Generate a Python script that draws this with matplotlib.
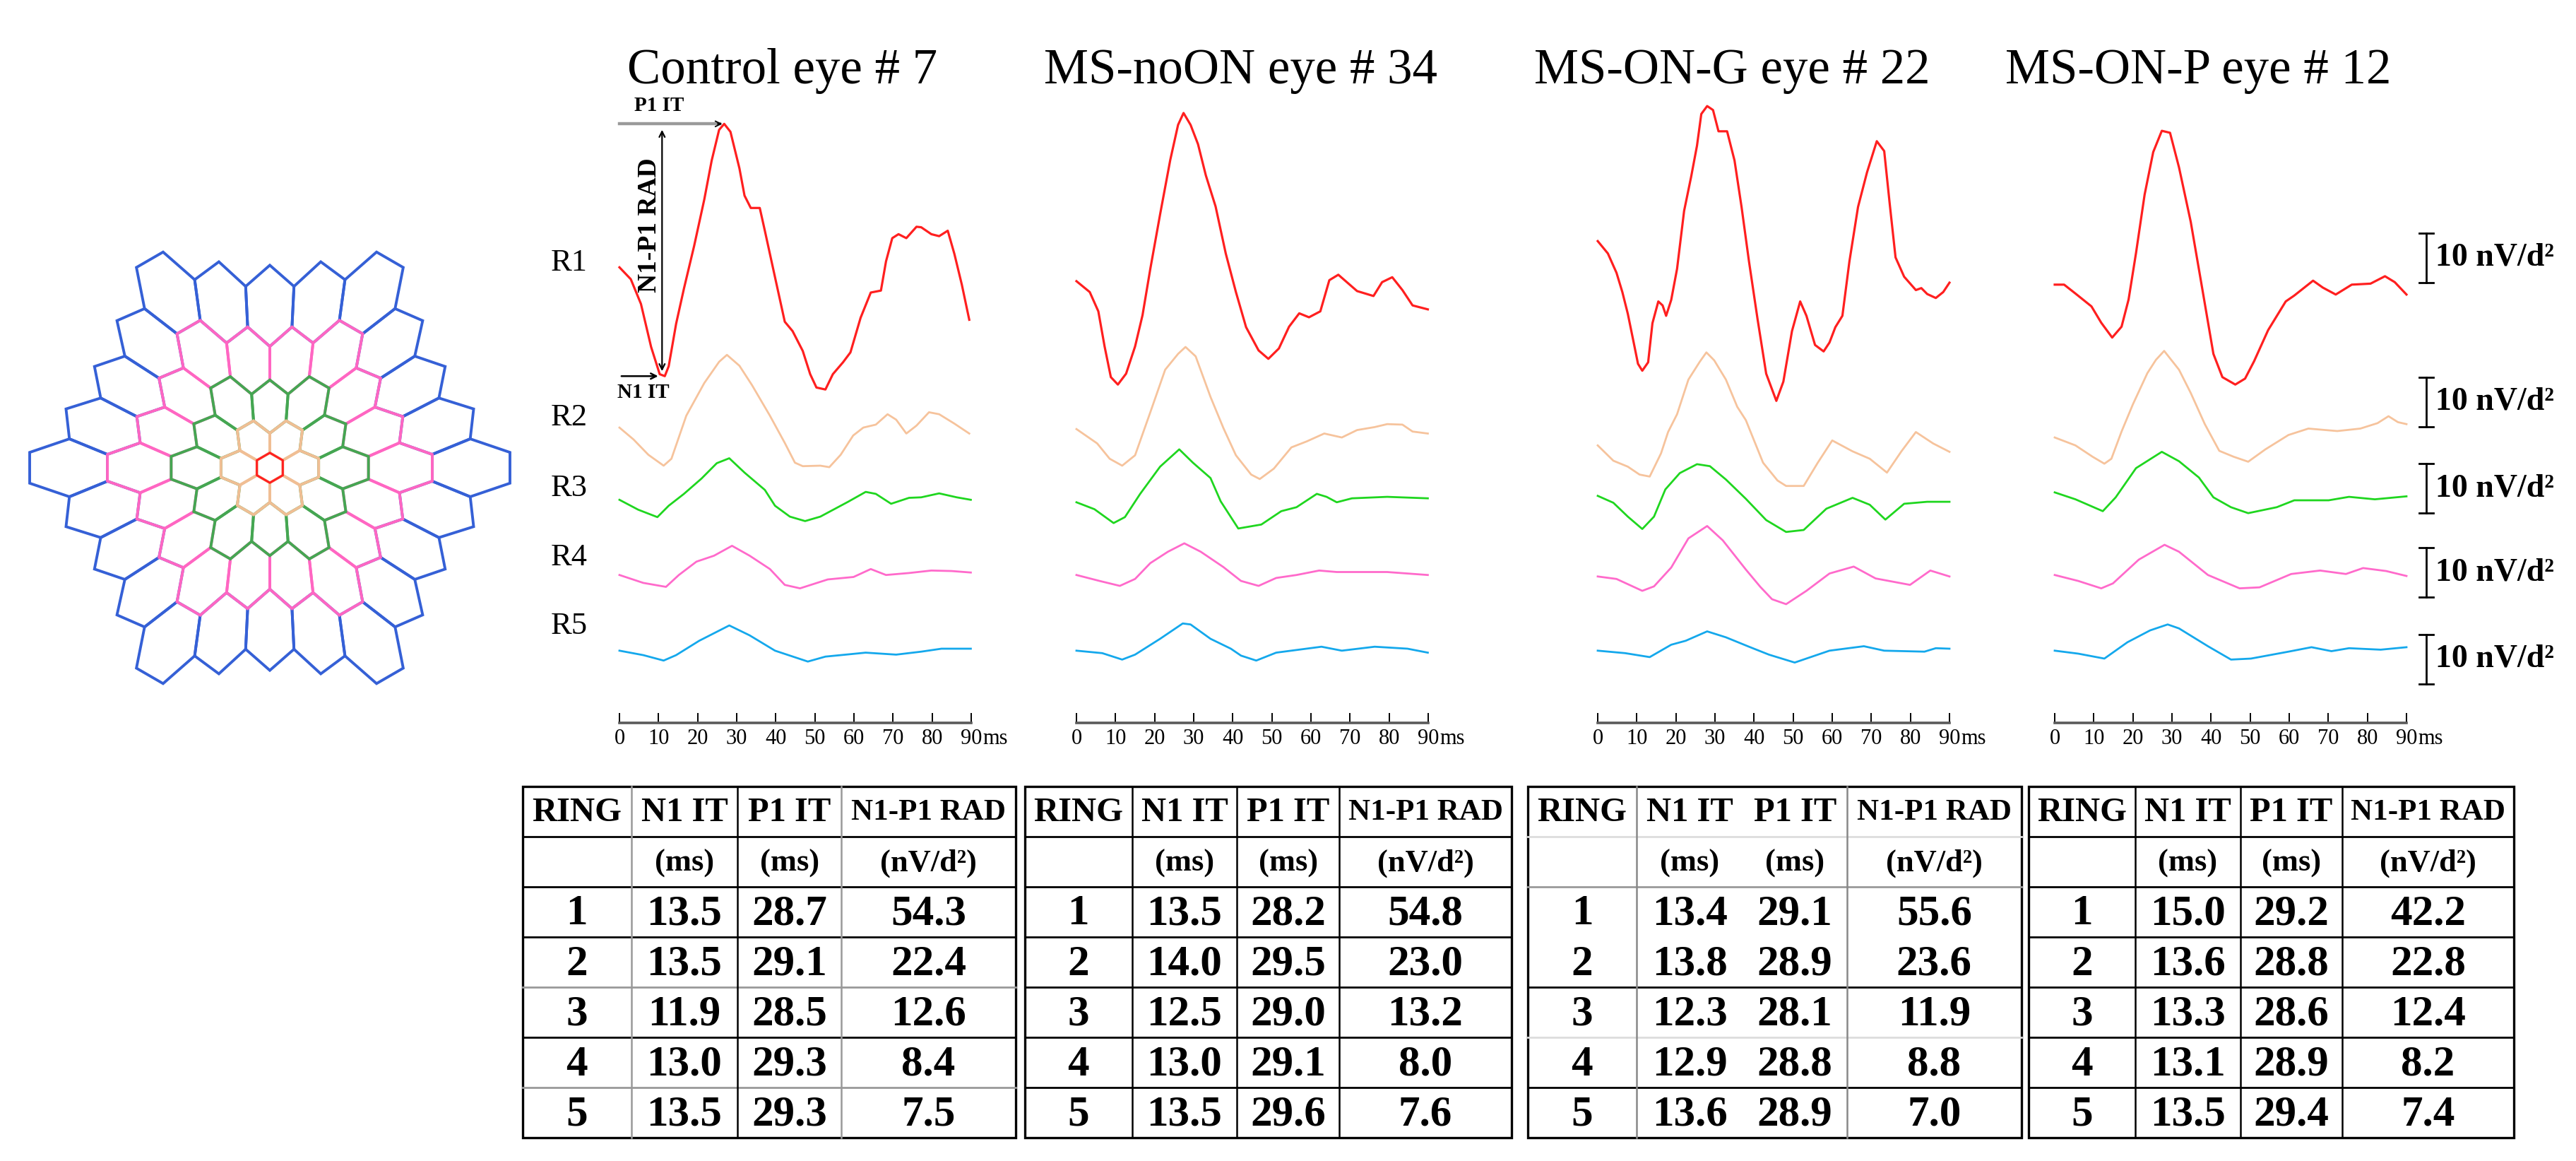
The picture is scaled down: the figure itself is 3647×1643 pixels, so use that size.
"""Multifocal ERG ring traces (R1-R5) for four eyes, with the stimulus array and ring tables."""

import numpy as np
import matplotlib
matplotlib.use("Agg")
import matplotlib.pyplot as plt
from matplotlib.patches import Polygon

W, H, DPI = 3647, 1643, 100

PANEL_TITLES = ["Control eye # 7", "MS-noON eye # 34", "MS-ON-G eye # 22", "MS-ON-P eye # 12"]
RING_LABELS = ["R1", "R2", "R3", "R4", "R5"]
TIME_TICKS = [0, 10, 20, 30, 40, 50, 60, 70, 80, 90]

# traces: (time ms, response nV/deg^2 relative to trace start)
CTRL_R1 = [(0, 0), (2.9, -2.4), (5.5, -7.4), (8.1, -16.1), (10.3, -21.6), (11.6, -22.0), (12.6, -20.0),
           (14.5, -11.4), (16.5, -4.3), (19.1, 4.3), (21.7, 13.7), (23.6, 21.6), (25.5, 27.8), (26.8, 29.0),
           (28.4, 27.4), (30.7, 20.0), (32.0, 14.5), (33.6, 12.0), (35.9, 12.0), (37.2, 7.4), (39.8, -2.0),
           (42.3, -11.0), (44.3, -12.9), (46.9, -16.9), (48.8, -21.6), (50.4, -24.3), (52.7, -24.7),
           (54.6, -21.6), (57.2, -19.2), (59.1, -17.2), (61.7, -10.2), (64.3, -5.1), (66.9, -4.7), (68.2, 1.2),
           (69.8, 5.9), (71.4, 6.7), (73.4, 5.9), (76.0, 8.2), (77.2, 8.1), (79.8, 6.7), (81.8, 6.3),
           (84.0, 7.4), (85.7, 2.7), (87.6, -3.5), (89.5, -10.6)]
CTRL_R2 = [(0, 0), (3.6, -2.4), (7.4, -5.5), (11.3, -7.7), (13.3, -6.3), (17.1, 2.4), (21.7, 9.0), (25.5, 13.3),
           (27.5, 14.7), (30.7, 12.5), (33.9, 8.6), (38.5, 2.4), (42.3, -3.1), (44.9, -7.1), (46.9, -7.8),
           (51.4, -7.7), (53.7, -8.0), (56.6, -5.5), (59.8, -1.6), (62.4, 0), (65.6, 0.6), (68.6, 2.7),
           (70.8, 1.6), (73.4, -1.2), (76.0, 0.4), (79.2, 3.1), (81.8, 2.7), (85.7, 0.8), (89.5, -1.2)]
CTRL_R3 = [(0, 0), (4.8, -2.0), (9.7, -3.5), (12.6, -1.2), (16.5, 1.2), (21.0, 4.3), (24.9, 7.4), (28.1, 8.4),
           (32.0, 5.5), (37.2, 2.0), (39.8, -1.2), (43.6, -3.4), (47.5, -4.3), (51.4, -3.4), (58.5, -0.4),
           (63.0, 1.6), (65.6, 1.2), (69.5, -0.8), (74.1, 0.4), (77.2, 0.5), (81.8, 1.3), (86.3, 0.5), (89.9, 0)]
CTRL_R4 = [(0, 0), (6.1, -1.6), (11.9, -2.4), (15.2, 0), (19.7, 2.7), (24.2, 3.9), (28.8, 5.9), (33.3, 3.9),
           (38.5, 1.2), (42.3, -2.0), (46.2, -2.7), (53.3, -0.9), (59.9, -0.4), (64.3, 1.2), (68.2, 0),
           (74.1, 0.4), (79.8, 0.9), (85.0, 0.8), (89.9, 0.5)]
CTRL_R5 = [(0, 0), (6.1, -0.9), (11.3, -2.0), (14.5, -0.9), (20.4, 2.0), (28.1, 5.1), (33.3, 3.1), (39.8, 0),
           (48.2, -2.2), (52.7, -1.2), (57.9, -0.8), (63.0, -0.4), (70.8, -0.8), (77.2, -0.2), (82.4, 0.4),
           (89.9, 0.4)]

NOON_R1 = [(0, 0), (3.4, -2.2), (5.6, -6.1), (7.2, -13.2), (8.8, -19.4), (10.6, -20.9), (12.7, -18.7),
           (15.0, -13.2), (16.9, -6.9), (18.9, 2.5), (21.4, 13.5), (24.0, 24.5), (26.0, 31.6), (27.4, 34.0),
           (29.2, 31.6), (31.1, 27.7), (33.1, 21.4), (35.6, 15.1), (38.2, 5.6), (40.8, -2.2), (43.4, -9.3),
           (46.6, -14.0), (49.1, -15.7), (51.8, -13.6), (54.4, -9.2), (57.0, -6.5), (59.5, -7.3), (62.4, -6.1),
           (64.7, 0.2), (67.0, 1.3), (71.8, -2.0), (76.0, -3.0), (78.2, -0.2), (80.8, 0.8), (83.4, -1.8),
           (86.0, -4.9), (89.9, -5.7)]
NOON_R2 = [(0, 0), (5.3, -2.9), (8.5, -6.0), (11.7, -7.4), (15.0, -5.3), (18.9, 3.4), (22.7, 12.0), (26.0, 15.2),
           (27.9, 16.6), (30.5, 14.7), (34.3, 6.5), (37.6, 0.2), (40.8, -5.3), (44.7, -9.2), (46.9, -10.1),
           (50.5, -8.0), (55.0, -3.7), (58.9, -2.5), (63.4, -0.9), (67.9, -1.7), (71.8, -0.2), (76.3, 0.4),
           (79.5, 1.0), (83.4, 0.9), (86.0, -0.5), (89.9, -0.9)]
NOON_R3 = [(0, 0), (4.6, -1.4), (9.5, -4.2), (12.4, -3.0), (16.3, 1.7), (21.4, 7.2), (26.3, 10.7), (29.8, 8.0),
           (34.3, 4.9), (36.9, 0.2), (41.4, -5.3), (47.3, -4.5), (52.4, -1.8), (56.3, -1.0), (61.5, 1.7),
           (64.0, 1.1), (66.6, 0), (70.5, 0.8), (79.5, 1.1), (89.9, 0.8)]
NOON_R4 = [(0, 0), (5.9, -1.2), (11.1, -2.2), (15.0, -0.8), (18.9, 2.4), (23.4, 4.7), (27.6, 6.4), (31.8, 4.7),
           (37.6, 1.6), (42.1, -1.2), (46.6, -2.2), (51.1, -0.6), (56.3, 0), (62.1, 0.9), (66.6, 0.6),
           (79.5, 0.6), (89.9, 0)]
NOON_R5 = [(0, 0), (6.6, -0.5), (11.7, -1.8), (15.0, -0.8), (21.4, 2.4), (27.2, 5.5), (29.2, 5.3), (34.3, 2.4),
           (39.5, 0.4), (42.1, -1.0), (46.0, -2.0), (51.1, -0.4), (62.7, 0.8), (67.9, 0), (76.3, 0.8),
           (84.7, 0.4), (89.9, -0.4)]

ONG_R1 = [(0, 0), (2.6, -2.5), (4.8, -6.4), (6.3, -10.3), (7.7, -14.7), (9.2, -20.5), (10.3, -24.8),
          (11.4, -26.2), (12.9, -24.5), (14.0, -16.6), (15.5, -12.2), (16.6, -13.0), (17.5, -15.1),
          (18.8, -11.9), (20.3, -5.6), (22.1, 6.1), (23.9, 13.0), (25.4, 19.3), (26.5, 25.7), (28.0, 27.3),
          (29.5, 26.5), (30.9, 22.2), (33.1, 22.2), (35.0, 16.3), (36.8, 6.9), (38.7, -4.1), (40.9, -15.8),
          (43.1, -26.8), (45.7, -32.3), (47.5, -28.4), (49.7, -18.2), (51.8, -12.2), (53.4, -15.1),
          (55.6, -21.0), (57.8, -22.3), (59.3, -20.5), (60.8, -17.4), (62.6, -15.1), (64.4, -4.1), (66.6, 6.9),
          (68.9, 13.9), (71.4, 20.2), (73.3, 18.2), (74.7, 7.6), (76.2, -3.3), (78.4, -7.2), (81.4, -9.9),
          (82.8, -9.5), (84.3, -10.7), (86.5, -11.5), (88.4, -10.3), (90.0, -8.4)]
ONG_R2 = [(0, 0), (4.0, -3.1), (7.7, -4.3), (10.7, -5.9), (13.3, -6.3), (16.2, -1.6), (18.0, 2.7), (20.3, 6.3),
          (23.2, 13.3), (26.1, 16.9), (27.8, 18.8), (29.8, 17.2), (32.8, 13.3), (35.7, 7.8), (37.9, 5.1),
          (42.3, -3.5), (46.0, -7.1), (48.2, -8.2), (52.7, -8.2), (56.3, -3.5), (60.0, 1.0), (65.2, -1.2),
          (69.6, -2.7), (74.0, -5.5), (77.7, -1.2), (81.4, 2.7), (85.8, 0.4), (90.0, -1.3)]
ONG_R3 = [(0, 0), (4.0, -1.4), (7.7, -4.2), (11.4, -6.7), (14.4, -4.2), (17.3, 1.3), (21.0, 4.6), (25.4, 6.4),
          (28.7, 6.0), (32.8, 3.3), (37.9, -0.6), (43.1, -4.9), (48.2, -7.3), (52.7, -6.9), (58.5, -2.6),
          (65.2, -0.4), (69.6, -1.8), (73.6, -4.8), (78.4, -1.6), (84.3, -1.2), (90.0, -1.2)]
ONG_R4 = [(0, 0), (4.8, -0.5), (11.4, -2.9), (14.4, -2.0), (18.8, 1.8), (23.2, 7.7), (28.0, 10.2), (32.0, 7.3),
          (37.9, 1.4), (41.6, -2.1), (44.6, -4.6), (48.2, -5.6), (53.4, -2.9), (59.3, 0.6), (65.5, 2.0),
          (71.1, -0.4), (79.9, -1.7), (85.1, 1.2), (90.0, 0)]
ONG_R5 = [(0, 0), (7.0, -0.5), (13.3, -1.3), (18.8, 1.2), (22.5, 2.0), (28.0, 3.9), (32.8, 2.7), (38.7, 0.8),
          (43.8, -0.8), (50.4, -2.4), (59.3, 0), (68.1, 0.9), (73.3, 0), (83.6, -0.2), (86.5, 0.5), (90.0, 0.4)]

ONP_R1 = [(0, 0), (2.4, 0), (5.3, -1.8), (9.4, -4.4), (11.9, -7.7), (14.7, -10.7), (17.1, -8.5), (18.9, -3.0),
          (20.8, 6.4), (23.0, 18.2), (25.2, 26.8), (27.4, 31.1), (29.5, 30.7), (31.8, 23.7), (34.8, 12.7),
          (37.7, -0.6), (40.6, -14.0), (42.9, -18.7), (46.2, -20.2), (48.7, -19.0), (51.0, -15.5), (54.6, -9.2),
          (59.1, -3.4), (61.3, -2.2), (66.1, 0.8), (68.6, -0.6), (71.9, -2.0), (76.0, 0), (80.8, 0.2),
          (84.5, 1.7), (87.0, 0.5), (90.0, -2.0)]
ONP_R2 = [(0, 0), (5.3, -1.6), (9.7, -3.9), (12.7, -5.3), (14.5, -4.3), (17.1, 1.2), (20.0, 6.7), (23.7, 13.0),
          (25.9, 15.7), (28.0, 17.5), (31.8, 13.7), (34.8, 9.0), (38.4, 2.7), (42.1, -2.7), (45.8, -3.9),
          (49.5, -4.9), (53.9, -2.4), (59.8, 0.5), (64.9, 1.8), (72.3, 1.3), (78.2, 1.8), (82.6, 2.9),
          (85.4, 4.3), (87.8, 3.1), (90.0, 2.7)]
ONP_R3 = [(0, 0), (5.3, -1.4), (12.3, -3.8), (15.6, -1.0), (20.8, 4.9), (27.4, 8.2), (31.8, 6.3), (36.9, 3.0),
          (40.6, -1.0), (45.1, -3.0), (49.5, -4.2), (56.8, -3.0), (61.3, -1.6), (70.1, -1.6), (75.3, -0.9),
          (81.9, -1.4), (90.0, -0.8)]
ONP_R4 = [(0, 0), (6.0, -1.2), (11.9, -2.7), (14.9, -1.7), (21.5, 3.1), (28.1, 6.1), (31.8, 4.7), (39.2, 0),
          (47.3, -2.7), (52.4, -2.5), (60.5, 0.2), (67.9, 0.9), (74.5, 0.2), (78.9, 1.4), (84.8, 0.8), (90.0, -0.2)]
ONP_R5 = [(0, 0), (6.0, -0.6), (12.7, -1.6), (18.6, 1.7), (24.4, 4.1), (28.9, 5.3), (31.8, 4.5), (39.2, 0.9),
          (45.1, -1.8), (50.2, -1.6), (59.8, -0.2), (65.7, 0.7), (70.8, -0.1), (75.3, 0.5), (83.4, 0.2),
          (90.0, 0.7)]

# ring tables
N1_IT = [[13.5, 13.5, 11.9, 13.0, 13.5], [13.5, 14.0, 12.5, 13.0, 13.5],
         [13.4, 13.8, 12.3, 12.9, 13.6], [15.0, 13.6, 13.3, 13.1, 13.5]]
P1_IT = [[28.7, 29.1, 28.5, 29.3, 29.3], [28.2, 29.5, 29.0, 29.1, 29.6],
         [29.1, 28.9, 28.1, 28.8, 28.9], [29.2, 28.8, 28.6, 28.9, 29.4]]
N1P1_RAD = [[54.3, 22.4, 12.6, 8.4, 7.5], [54.8, 23.0, 13.2, 8.0, 7.6],
            [55.6, 23.6, 11.9, 8.8, 7.0], [42.2, 22.8, 12.4, 8.2, 7.4]]
TABLE_HEAD = ["RING", "N1 IT", "P1 IT", "N1-P1 RAD"]
TABLE_UNITS = ["", "(ms)", "(ms)", "(nV/d\u00b2)"]

TRACES = [[CTRL_R1, CTRL_R2, CTRL_R3, CTRL_R4, CTRL_R5],
          [NOON_R1, NOON_R2, NOON_R3, NOON_R4, NOON_R5],
          [ONG_R1, ONG_R2, ONG_R3, ONG_R4, ONG_R5],
          [ONP_R1, ONP_R2, ONP_R3, ONP_R4, ONP_R5]]

# layout (pixels of the output image) and styling
TRACE_COLORS = ["#ff1f1f", "#f6c39c", "#1fd61f", "#ff6acb", "#14a8ec"]
HEX_COLORS = ["#ff2020", "#f0be94", "#45a652", "#ff66c2", "#3560d6"]
PANEL_LEFT = [877, 1524, 2262, 2909]
TITLE_X = [1108, 1757, 2452, 3112]
AX_W, AX_TOP, AX_BOTTOM = 498, 140, 1023
PX_PER_NV = 7.0
TRACE_BASE = [[92.1, 59.7, 45.1, 29.9, 14.6], [89.3, 59.4, 44.6, 29.9, 14.6],
              [97.4, 56.1, 45.9, 29.6, 14.6], [88.6, 57.7, 46.6, 29.9, 14.6]]
RLABEL_Y = [372, 591, 691, 789, 886]
SCALEBAR_BASE = [89.0, 59.9, 42.4, 25.4, 7.9]
TABLE_LEFT = [740, 1451, 2163, 2872]
TABLE_W = [698, 689, 699, 687]
TABLE_TOP, ROW_H = 1113, 71
COL_FRAC = [0.22, 0.216, 0.21, 0.354]
# inner rule colours per table: 6 horizontal, 3 vertical (None = no rule)
TABLE_HRULES = [["k", "k", "k", "#999", "k", "#999"], ["k", "k", "k", "k", "k", "k"],
                ["#ddd", "#999", None, "k", "#ddd", "k"], ["k", "k", "k", "k", "k", "k"]]
TABLE_VRULES = [["#999", "k", "#999"], ["k", "k", "k"], ["#888", None, "#888"], ["k", "k", "k"]]
HEX_CX, HEX_CY, HEX_C1, HEX_C2 = 382, 662, 15.5, 2.47

plt.rcParams["font.family"] = ["Liberation Serif", "DejaVu Serif"]

fig = plt.figure(figsize=(W / DPI, H / DPI), dpi=DPI)
ov = fig.add_axes([0, 0, 1, 1])
ov.set_xlim(0, W)
ov.set_ylim(H, 0)
ov.axis("off")


def px_rect(x0, y0, x1, y1):
    return [x0 / W, 1 - y1 / H, (x1 - x0) / W, (y1 - y0) / H]


# stimulus array: 61 hexagons, scaled with eccentricity
def warp(px, py):
    d = np.hypot(px, py)
    s = np.where(d > 0, HEX_C1 + HEX_C2 * d, HEX_C1)
    return HEX_CX + px * s, HEX_CY + py * s


ang = np.deg2rad(np.arange(30, 390, 60))
rad = 2 / np.sqrt(3)
for ring in range(4, -1, -1):
    for q in range(-ring, ring + 1):
        for r in range(-ring, ring + 1):
            if max(abs(q), abs(r), abs(q + r)) != ring:
                continue
            cx, cy = 2 * q + r, np.sqrt(3) * r
            vx, vy = warp(cx + rad * np.cos(ang), cy + rad * np.sin(ang))
            ov.add_patch(Polygon(np.column_stack([vx, vy]), closed=True, fill=False,
                                 edgecolor=HEX_COLORS[ring], lw=2.8 if ring else 2.2,
                                 joinstyle="miter"))

for lab, y in zip(RING_LABELS, RLABEL_Y):
    ov.text(780, y, lab, fontsize=32, ha="left", va="center")

ytop = (AX_BOTTOM - AX_TOP) / PX_PER_NV
axes = []
for p in range(4):
    ax = fig.add_axes(px_rect(PANEL_LEFT[p], AX_TOP, PANEL_LEFT[p] + AX_W, AX_BOTTOM))
    ax.patch.set_alpha(0)
    ax.set_xlim(0, 90)
    ax.set_ylim(0, ytop)
    for side in ["top", "right", "left"]:
        ax.spines[side].set_visible(False)
    ax.spines["bottom"].set_color("#5a5a5a")
    ax.spines["bottom"].set_linewidth(2.6)
    ax.set_yticks([])
    ax.set_xticks(TIME_TICKS)
    ax.tick_params(axis="x", direction="in", length=10, width=1.4, color="black",
                   labelsize=22, pad=6)
    ax.annotate("ms", xy=(90, 0), xycoords="data", xytext=(12, -6), textcoords="offset points",
                ha="left", va="top", fontsize=22)
    for k in range(5):
        t, v = np.array(TRACES[p][k]).T
        ax.plot(t, v + TRACE_BASE[p][k], color=TRACE_COLORS[k],
                lw=2.3 if k == 0 else 2.0, clip_on=False, solid_joinstyle="round")
    ov.text(TITLE_X[p], 118, PANEL_TITLES[p], fontsize=51, ha="center", va="baseline")
    axes.append(ax)

# N1 / P1 annotation on the control R1 trace
ax = axes[0]
t, v = np.array(CTRL_R1).T
v = v + TRACE_BASE[0][0]
ip, it = int(np.argmax(v)), int(np.argmin(v[:15]))
ax.plot([0, t[ip] - 1.2], [v[ip], v[ip]], color="#9a9a9a", lw=3.2, clip_on=False)
ax.annotate("", xy=(t[ip], v[ip]), xytext=(t[ip] - 2.2, v[ip]),
            arrowprops=dict(arrowstyle="->", color="black", lw=1.3, mutation_scale=14))
ax.annotate("P1 IT", xy=(10.1, v[ip]), xytext=(0, 9), textcoords="offset points",
            ha="center", va="bottom", fontsize=21, fontweight="bold")
ax.annotate("", xy=(t[it] - 0.7, v[ip] - 0.8), xytext=(t[it] - 0.7, v[it] + 0.6),
            arrowprops=dict(arrowstyle="<->", color="black", lw=1.6, mutation_scale=14))
ax.text(t[it] - 4.0, (v[ip] + v[it]) / 2 + 5, "N1-P1 RAD", rotation=90, ha="center", va="center",
        fontsize=27, fontweight="bold")
ax.annotate("", xy=(t[it] - 1.2, v[it]), xytext=(0, v[it]),
            arrowprops=dict(arrowstyle="->", color="black", lw=1.8, mutation_scale=14))
ax.annotate("N1 IT", xy=(6.1, v[it]), xytext=(0, -7), textcoords="offset points",
            ha="center", va="top", fontsize=21, fontweight="bold")

# 10 nV/deg^2 calibration bars
ax = axes[3]
for base in SCALEBAR_BASE:
    ax.plot([95, 95], [base, base + 10], color="black", lw=2.0, clip_on=False)
    for yy in (base, base + 10):
        ax.plot([93.2, 96.8], [yy, yy], color="black", lw=2.0, clip_on=False)
    ax.annotate("+", xy=(95, base + 10), xytext=(0, 1), textcoords="offset points",
                ha="center", va="bottom", fontsize=16)
    ax.annotate("\u2013", xy=(95, base), xytext=(0, -2), textcoords="offset points",
                ha="center", va="top", fontsize=16, color="#888888")
    ax.text(97.4, base + 5, "10 nV/d\u00b2", ha="left", va="center", fontsize=33,
            fontweight="bold", clip_on=False)

# ring tables
for g in range(4):
    x0, w = TABLE_LEFT[g], TABLE_W[g]
    xs = x0 + w * np.concatenate([[0], np.cumsum(COL_FRAC)])
    ys = TABLE_TOP + ROW_H * np.arange(8)
    ov.add_patch(plt.Rectangle((xs[0], ys[0]), w, ys[-1] - ys[0], fill=False, ec="black", lw=2.4))
    for i, c in enumerate(TABLE_HRULES[g]):
        if c:
            ov.plot([xs[0], xs[-1]], [ys[i + 1], ys[i + 1]], color=c, lw=2.0)
    for j, c in enumerate(TABLE_VRULES[g]):
        if c:
            ov.plot([xs[j + 1], xs[j + 1]], [ys[0], ys[-1]], color=c, lw=1.8)
    cx = (xs[:-1] + xs[1:]) / 2
    for j in range(4):
        ov.text(cx[j], ys[0] + ROW_H / 2 + 2, TABLE_HEAD[j], ha="center", va="center",
                fontsize=31 if j == 3 else 35, fontweight="bold")
        ov.text(cx[j], ys[1] + ROW_H / 2 + 2, TABLE_UNITS[j], ha="center", va="center",
                fontsize=32, fontweight="bold")
    for i in range(5):
        row = [str(i + 1), f"{N1_IT[g][i]:.1f}", f"{P1_IT[g][i]:.1f}", f"{N1P1_RAD[g][i]:.1f}"]
        for j in range(4):
            ov.text(cx[j], ys[i + 2] + ROW_H / 2 + 3, row[j], ha="center", va="center",
                    fontsize=44, fontweight="bold")

fig.savefig("out.png", dpi=DPI)
